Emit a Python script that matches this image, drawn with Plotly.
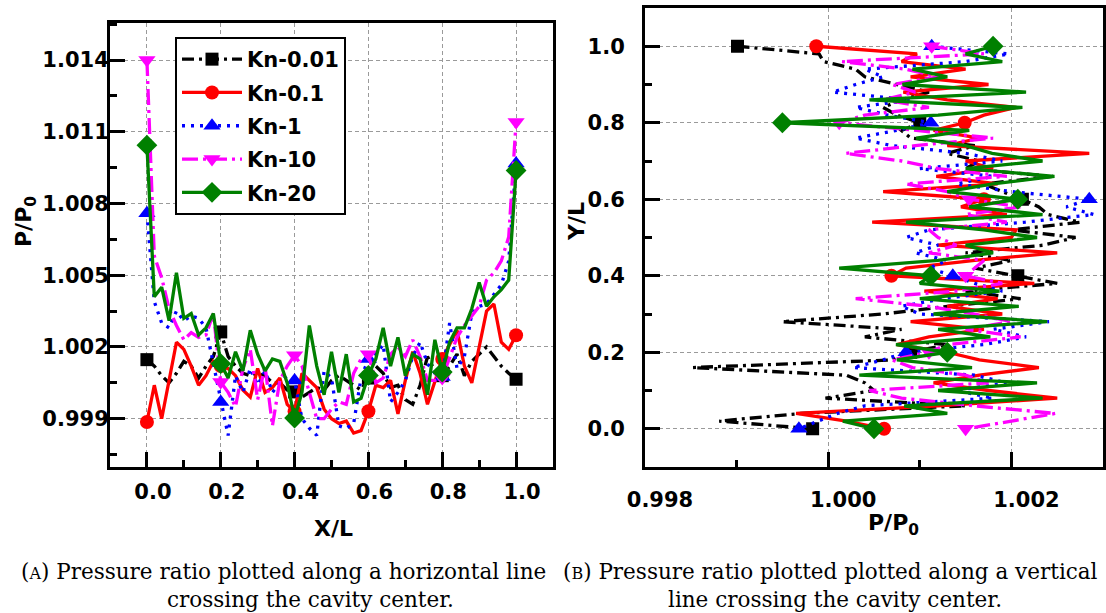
import plotly.graph_objects as go

W, H = 1106, 613

# ---------- (A) horizontal line through the cavity centre ----------
X_L = [0.00, 0.02, 0.04, 0.06, 0.08, 0.10, 0.12, 0.14, 0.16, 0.18,
       0.20, 0.22, 0.24, 0.26, 0.28, 0.30, 0.32, 0.34, 0.36, 0.38,
       0.40, 0.42, 0.44, 0.46, 0.48, 0.50, 0.52, 0.54, 0.56, 0.58,
       0.60, 0.62, 0.64, 0.66, 0.68, 0.70, 0.72, 0.74, 0.76, 0.78,
       0.80, 0.82, 0.84, 0.86, 0.88, 0.90, 0.92, 0.94, 0.96, 0.98,
       1.00]

KN001_L = [1.00147, 1.0012, 1.0008, 1.0005, 1.0009, 1.0014, 1.0012, 1.0007, 1.0012, 1.0016,
           1.00263, 1.0016, 1.0012, 1.0009, 1.0008, 1.0009, 1.0008, 1.0005, 1.0005, 1.0002,
           1.00012, 0.9999, 1.0001, 1.0003, 1.0002, 1.0006, 1.0008, 1.0006, 1.0004, 1.0002,
           1.0007, 1.0012, 1.0009, 1.0003, 1.0004, 0.9998, 0.9996, 1.0004, 1.0016, 1.0010,
           1.0008, 1.0012, 1.0017, 1.0008, 1.0014, 1.0017, 1.0020, 1.0016, 1.0012, 1.0009,
           1.00065]
KN01_L = [0.99886, 1.0004, 0.9990, 1.0006, 1.0022, 1.0019, 1.0012, 1.0004, 1.0008, 1.0014,
          1.0012, 1.0011, 1.0008, 1.0002, 0.9999, 1.0011, 1.0001, 1.0003, 1.0007, 0.9996,
          0.9993, 1.0009, 1.0006, 1.0003, 0.9994, 0.9990, 0.9988, 0.9989, 0.9984, 0.9985,
          0.99931, 1.0004, 1.0003, 1.0006, 0.9992, 1.0006, 1.0018, 1.0009, 0.9996, 1.0006,
          1.0015, 1.0021, 1.0027, 1.0012, 1.0005, 1.0020, 1.0035, 1.0038, 1.0022, 1.0019,
          1.00249]
KN1_L = [1.00759, 1.0039, 1.0030, 1.0028, 1.0035, 1.0031, 1.0033, 1.0032, 1.0028, 1.0013,
         0.99970, 0.9983, 1.0008, 1.0001, 1.0011, 1.0004, 1.0010, 1.0001, 1.0005, 1.0008,
         1.0006, 0.9990, 0.9986, 0.9983, 1.0010, 1.0007, 0.9987, 0.9986, 0.9988, 1.0007,
         1.0015, 1.0017, 1.0021, 0.9997, 1.0001, 1.0006, 1.0016, 1.0022, 1.0013, 1.0009,
         1.00074, 1.0030, 1.0011, 1.0016, 1.0034, 1.0037, 1.0038, 1.0042, 1.0046, 1.0056,
         1.00967]
KN10_L = [1.0140, 1.0058, 1.0049, 1.0036, 1.0029, 1.0023, 1.0026, 1.0024, 1.0025, 1.0034,
          1.00053, 1.0001, 0.9995, 1.0011, 1.0019, 0.9998, 1.0012, 0.9987, 1.0006, 1.0012,
          1.00165, 1.0012, 1.0001, 0.9990, 0.9990, 0.9994, 0.9997, 0.9996, 1.0009, 1.0015,
          1.0017, 1.0005, 1.0007, 1.0017, 1.0020, 1.0016, 1.0023, 1.0016, 1.0006, 1.0006,
          1.0007, 1.0016, 1.0024, 1.0029, 1.0033, 1.0037, 1.0048, 1.0051, 1.0056, 1.0066,
          1.01141]
KN20_L = [1.01044, 1.0041, 1.0045, 1.0031, 1.0051, 1.0032, 1.0034, 1.0025, 1.0028, 1.0034,
          1.0013, 1.0007, 1.0018, 1.0010, 1.0027, 1.0017, 1.0010, 1.0015, 1.0014, 1.0005,
          0.99903, 1.0001, 1.0029, 1.0012, 1.0000, 1.0018, 1.0001, 1.0017, 0.9997, 0.99985,
          1.00081, 1.0015, 1.0028, 1.0012, 1.0024, 1.0008, 1.0017, 1.0015, 1.0000, 1.0023,
          1.00095, 1.0022, 1.0028, 1.0028, 1.0036, 1.0047, 1.0037, 1.0041, 1.0044, 1.0048,
          1.00938]

# ---------- (B) vertical line through the cavity centre (top -> bottom) ----------
Y_R = [1.00, 0.98, 0.96, 0.94, 0.92, 0.90, 0.88, 0.86, 0.84, 0.82,
       0.80, 0.78, 0.76, 0.74, 0.72, 0.70, 0.68, 0.66, 0.64, 0.62,
       0.60, 0.58, 0.56, 0.54, 0.52, 0.50, 0.48, 0.46, 0.44, 0.42,
       0.40, 0.38, 0.36, 0.34, 0.32, 0.30, 0.28, 0.26, 0.24, 0.22,
       0.20, 0.18, 0.16, 0.14, 0.12, 0.10, 0.08, 0.06, 0.04, 0.02,
       0.00]

KN001_R = [0.99901, 0.99990, 0.99995, 1.00030, 1.00040, 1.00075, 1.00110, 1.00080, 1.00060, 1.00075,
           1.00100, 1.00080, 1.00090, 1.00160, 1.00130, 1.00165, 1.00150, 1.00245, 1.00170, 1.00190,
           1.00212, 1.00230, 1.00240, 1.00275, 1.00200, 1.00270, 1.00235, 1.00150, 1.00200, 1.00160,
           1.00207, 1.00250, 1.00150, 1.00210, 1.00130, 1.00060, 0.99950, 1.00080, 1.00040, 1.00130,
           1.00090, 1.00070, 0.99852, 1.00020, 1.00040, 1.00050, 0.99997, 1.00150, 0.99970, 0.99881,
           0.99983]
KN01_R = [0.99987, 1.00097, 1.00080, 1.00150, 1.00090, 1.00175, 1.00082, 1.00130, 1.00205, 1.00170,
          1.00149, 1.00115, 1.00165, 1.00130, 1.00285, 1.00150, 1.00180, 1.00118, 1.00185, 1.00060,
          1.00170, 1.00145, 1.00195, 1.00048, 1.00205, 1.00200, 1.00120, 1.00250, 1.00160, 1.00085,
          1.00069, 1.00225, 1.00105, 1.00185, 1.00130, 1.00190, 1.00090, 1.00170, 1.00110, 1.00075,
          1.00130, 1.00165, 1.00230, 1.00165, 1.00115, 1.00175, 1.00250, 1.00120, 0.99965, 1.00020,
          1.00061]
KN1_R = [1.00113, 1.00197, 1.00150, 1.00040, 1.00060, 1.00030, 1.00005, 1.00090, 1.00030, 1.00065,
         1.00112, 1.00075, 1.00030, 1.00070, 1.00150, 1.00190, 1.00100, 1.00180, 1.00140, 1.00200,
         1.00285, 1.00260, 1.00290, 1.00215, 1.00110, 1.00085, 1.00120, 1.00095, 1.00130, 1.00110,
         1.00136, 1.00160, 1.00190, 1.00125, 1.00080, 1.00100, 1.00241, 1.00180, 1.00216, 1.00170,
         1.00085, 1.00060, 1.00027, 1.00160, 1.00195, 1.00140, 1.00180, 1.00040, 1.00010, 0.99990,
         0.99968]
KN10_R = [1.00113, 1.00170, 1.00015, 1.00085, 1.00120, 1.00070, 1.00095, 1.00060, 1.00110, 1.00040,
          1.00012, 1.00100, 1.00180, 1.00095, 1.00019, 1.00080, 1.00120, 1.00195, 1.00085, 1.00130,
          1.00154, 1.00210, 1.00150, 1.00195, 1.00110, 1.00120, 1.00140, 1.00110, 1.00170, 1.00160,
          1.00150, 1.00190, 1.00140, 1.00030, 1.00110, 1.00160, 1.00200, 1.00150, 1.00210, 1.00130,
          1.00110, 1.00070, 1.00092, 1.00150, 1.00175, 1.00045, 1.00080, 1.00160, 1.00248, 1.00200,
          1.00150]
KN20_R = [1.00180, 1.00150, 1.00190, 1.00092, 1.00130, 1.00081, 1.00216, 1.00045, 1.00212, 1.00120,
          0.99950, 1.00154, 1.00096, 1.00150, 1.00179, 1.00234, 1.00150, 1.00247, 1.00180, 1.00130,
          1.00207, 1.00154, 1.00234, 1.00085, 1.00170, 1.00228, 1.00150, 1.00180, 1.00120, 1.00012,
          1.00112, 1.00100, 1.00187, 1.00100, 1.00208, 1.00115, 1.00239, 1.00120, 1.00177, 1.00074,
          1.00130, 1.00075, 1.00157, 1.00034, 1.00228, 1.00120, 1.00234, 1.00083, 1.00130, 1.00016,
          1.00050]

SERIES = [
    # name, colour, dash, symbol, marker size, left values, right values
    ("Kn-0.01", "#000000", "12px,5px,3px,5px", "square", 13, KN001_L, KN001_R),
    ("Kn-0.1", "#ff0000", "solid", "circle", 14, KN01_L, KN01_R),
    ("Kn-1", "#0000ff", "3px,6px", "triangle-up", 15, KN1_L, KN1_R),
    ("Kn-10", "#ff00ff", "16px,5px,3px,5px", "triangle-down", 15, KN10_L, KN10_R),
    ("Kn-20", "#008000", "solid", "diamond", 16, KN20_L, KN20_R),
]

MARK_EVERY = 10  # markers at 0, 0.2, ..., 1.0
LINE_W = 3.3

SANS = "DejaVu Sans, Arial, sans-serif"
SERIF = "DejaVu Serif, Liberation Serif, serif"


def fx(px):
    return px / W


def fy(py):
    return 1 - py / H


fig = go.Figure()

for name, color, dash, symbol, msize, left, right in SERIES:
    for xs, ys, xa, ya in ((X_L, left, "x", "y"), (right, Y_R, "x2", "y2")):
        fig.add_trace(go.Scatter(
            x=xs, y=ys, xaxis=xa, yaxis=ya, mode="lines",
            line=dict(color=color, width=LINE_W, dash=dash),
            showlegend=False, hoverinfo="skip",
        ))
        fig.add_trace(go.Scatter(
            x=xs[::MARK_EVERY], y=ys[::MARK_EVERY], xaxis=xa, yaxis=ya, mode="markers",
            marker=dict(color=color, symbol=symbol, size=msize, line=dict(width=0)),
            showlegend=False, hoverinfo="skip",
        ))
    # legend entry
    fig.add_trace(go.Scatter(
        x=[None], y=[None], xaxis="x", yaxis="y", mode="lines+markers", name=name,
        legendgroup=name,
        line=dict(color=color, width=LINE_W, dash=dash),
        marker=dict(color=color, symbol=symbol, size=msize, line=dict(width=0)),
    ))

axis_common = dict(
    showline=True, linecolor="black", linewidth=3, mirror=True,
    ticks="inside", ticklen=15, tickwidth=2.5, tickcolor="black",
    showgrid=True, gridcolor="#9a9a9a", gridwidth=1, griddash="4px,3px",
    zeroline=False, automargin=False,
    tickfont=dict(family=SANS, size=21, color="black", weight="bold"),
)
minor_common = dict(ticks="inside", ticklen=7, tickwidth=2.5, tickcolor="black", showgrid=False)

fig.update_layout(
    width=W, height=H,
    margin=dict(l=0, r=0, t=0, b=0, autoexpand=False),
    paper_bgcolor="white", plot_bgcolor="white",
    xaxis=dict(axis_common, domain=[fx(110), fx(553)], range=[-0.1, 1.1],
               tick0=0, dtick=0.2, tickformat=".1f", anchor="y",
               ticklabelstandoff=4, ticklabelshift=6,
               minor=dict(minor_common, dtick=0.1)),
    yaxis=dict(axis_common, domain=[fy(467), fy(23)], range=[0.99698, 1.01555],
               tick0=0.999, dtick=0.003, tickformat=".3f", anchor="x",
               ticklabelstandoff=-6,
               minor=dict(minor_common, dtick=0.0015)),
    xaxis2=dict(axis_common, domain=[fx(645), fx(1103)], range=[0.998, 1.003],
                tick0=0.998, dtick=0.002, tickformat=".3f", anchor="y2",
                ticklabelstandoff=12, ticklabelshift=15,
                minor=dict(minor_common, dtick=0.001)),
    yaxis2=dict(axis_common, domain=[fy(467), fy(8)], range=[-0.1, 1.1],
                tick0=0, dtick=0.2, tickformat=".1f", anchor="x2",
                ticklabelstandoff=13,
                minor=dict(minor_common, dtick=0.1)),
    legend=dict(
        x=fx(175), y=fy(37), xanchor="left", yanchor="top",
        bgcolor="white", bordercolor="black", borderwidth=2,
        font=dict(family=SANS, size=21, color="black", weight="bold"),
        itemwidth=60, tracegroupgap=3,
    ),
)

title_font = dict(family=SANS, size=22, color="black", weight="bold")
cap_font = dict(family=SERIF, size=21.5, color="black")
annotations = [
    dict(text="X/L", x=fx(333), y=fy(528)),
    dict(text="P/P<sub>0</sub>", x=fx(893), y=fy(524)),
    dict(text="P/P<sub>0</sub>", x=fx(25), y=fy(222), textangle=-90),
    dict(text="Y/L", x=fx(576), y=fy(222), textangle=-90),
]
for a in annotations:
    fig.add_annotation(xref="paper", yref="paper", showarrow=False,
                       xanchor="center", yanchor="middle", font=title_font, **a)

captions = [
    ("(<span style='font-size:16px'>A</span>) Pressure ratio plotted along a horizontal line", 283, 571),
    ("crossing the cavity center.", 310, 599),
    ("(<span style='font-size:16px'>B</span>) Pressure ratio plotted plotted along a vertical", 830, 571),
    ("line crossing the cavity center.", 835, 599),
]
for text, cx, cy in captions:
    fig.add_annotation(xref="paper", yref="paper", showarrow=False, text=text,
                       x=fx(cx), y=fy(cy), xanchor="center", yanchor="middle", font=cap_font)

# the page body has a default 8px margin; remove it so the figure sits at (0, 0)
fig.write_html("out.html", config={"displayModeBar": False},
               post_script="document.body.style.margin='0px';")
